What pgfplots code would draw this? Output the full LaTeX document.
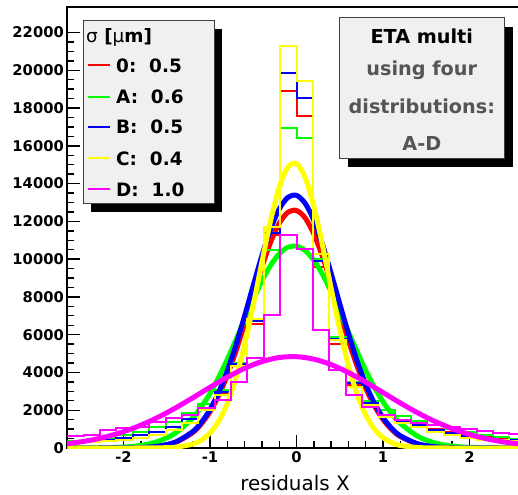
\documentclass[border=0pt]{standalone}
\usepackage{pgfplots}
\pgfplotsset{compat=1.18}
\usepackage{fontspec}
\setmainfont{DejaVu Sans}
\definecolor{boxgray}{RGB}{240,240,240}
\definecolor{txtgray}{RGB}{85,85,85}
\definecolor{cR}{RGB}{255,0,0}
\definecolor{cG}{RGB}{0,255,0}
\definecolor{cB}{RGB}{0,0,255}
\definecolor{cY}{RGB}{255,255,0}
\definecolor{cM}{RGB}{255,0,255}
\newcommand\tickfont{\fontsize{14.8}{16}\selectfont\bfseries}
\newcommand\legfont{\fontsize{18.5}{20}\selectfont\bfseries}
\newcommand\boxfont{\fontsize{19.3}{21}\selectfont\bfseries}
\begin{document}
\begin{tikzpicture}
\begin{axis}[
 at={(0,0)}, anchor=south west,
 scale only axis, width=458.4bp, height=441bp,
 xmin=-2.65, xmax=2.65, ymin=0, ymax=23350,
 axis line style={line width=1.8bp},
 tick align=inside, xtick pos=lower, ytick pos=left,
 xtick={-2,-1,0,1,2}, xticklabels={-2,-1,0,1,2},
 ytick={0,2000,...,22000},
 yticklabels={0,2000,4000,6000,8000,10000,12000,14000,16000,18000,20000,22000},
 minor x tick num=4, minor y tick num=3,
 major tick length=13bp, minor tick length=7bp,
 tick style={black, line width=1.4bp},
 scaled y ticks=false,
 xticklabel style={font=\tickfont},
 yticklabel style={font=\tickfont},
]
% ---- 0 (red)
\addplot[cR, line width=2bp, const plot] coordinates {
(-2.65,300)(-2.4607,350)(-2.2714,450)(-2.0821,550)(-1.8929,700)(-1.7036,850)(-1.5143,1100)
(-1.325,1550)(-1.1357,2100)(-0.9464,2900)(-0.7571,4400)(-0.5679,6550)(-0.3786,11300)(-0.1893,18880)
(0,17560)(0.1893,9600)(0.3786,5500)(0.5679,3350)(0.7571,2350)(0.9464,1700)(1.1357,1450)
(1.325,1250)(1.5143,1000)(1.7036,850)(1.8929,700)(2.0821,600)(2.2714,500)(2.4607,420)(2.65,420)};
\addplot[cR, line width=5bp, smooth] coordinates {
(-2.65,0)(-2.4,0)(-2.2,1)(-2.0,5)(-1.8,24)(-1.6,91)(-1.4,295)(-1.2,815)(-1.1,1276)(-1.0,1919)
(-0.9,2772)(-0.8,3848)(-0.7,5133)(-0.6,6577)(-0.5,8098)(-0.4,9580)(-0.3,10890)(-0.2,11892)
(-0.1,12477)(0,12577)(0.1,12182)(0.2,11335)(0.3,10134)(0.4,8705)(0.5,7185)(0.6,5696)(0.7,4341)
(0.8,3176)(0.9,2234)(1.0,1509)(1.1,980)(1.2,611)(1.4,211)(1.6,62)(1.8,15)(2.0,3)(2.2,1)(2.4,0)(2.65,0)};
% ---- A (green)
\addplot[cG, line width=2bp, const plot] coordinates {
(-2.65,380)(-2.4607,450)(-2.2714,550)(-2.0821,700)(-1.8929,850)(-1.7036,1100)(-1.5143,1400)
(-1.325,1850)(-1.1357,2350)(-0.9464,3050)(-0.7571,4500)(-0.5679,6800)(-0.3786,10500)(-0.1893,16940)
(0,16410)(0.1893,10000)(0.3786,5900)(0.5679,3500)(0.7571,2500)(0.9464,2000)(1.1357,1700)
(1.325,1450)(1.5143,1200)(1.7036,1000)(1.8929,850)(2.0821,700)(2.2714,600)(2.4607,500)(2.65,500)};
\addplot[cG, line width=5bp, smooth] coordinates {
(-2.65,1)(-2.4,4)(-2.2,15)(-2.0,49)(-1.8,138)(-1.6,349)(-1.4,789)(-1.2,1599)(-1.1,2182)(-1.0,2895)
(-0.9,3740)(-0.8,4696)(-0.7,5735)(-0.6,6813)(-0.5,7872)(-0.4,8846)(-0.3,9670)(-0.2,10279)
(-0.1,10627)(0,10687)(0.1,10452)(0.2,9942)(0.3,9198)(0.4,8276)(0.5,7244)(0.6,6165)(0.7,5105)
(0.8,4110)(0.9,3219)(1.0,2451)(1.1,1816)(1.2,1309)(1.4,625)(1.6,267)(1.8,102)(2.0,35)(2.2,11)(2.4,3)(2.65,0)};
% ---- B (blue)
\addplot[cB, line width=2bp, const plot] coordinates {
(-2.65,300)(-2.4607,350)(-2.2714,450)(-2.0821,550)(-1.8929,700)(-1.7036,850)(-1.5143,1100)
(-1.325,1550)(-1.1357,2100)(-0.9464,2950)(-0.7571,4450)(-0.5679,6750)(-0.3786,11400)(-0.1893,19860)
(0,18530)(0.1893,9900)(0.3786,5750)(0.5679,3450)(0.7571,2400)(0.9464,1750)(1.1357,1400)
(1.325,1200)(1.5143,950)(1.7036,800)(1.8929,650)(2.0821,550)(2.2714,450)(2.4607,400)(2.65,400)};
\addplot[cB, line width=5bp, smooth] coordinates {
(-2.65,0)(-2.4,0)(-2.2,1)(-2.0,6)(-1.8,25)(-1.6,97)(-1.4,314)(-1.2,867)(-1.1,1357)(-1.0,2041)
(-0.9,2948)(-0.8,4092)(-0.7,5459)(-0.6,6995)(-0.5,8612)(-0.4,10188)(-0.3,11582)(-0.2,12647)
(-0.1,13269)(0,13376)(0.1,12955)(0.2,12055)(0.3,10778)(0.4,9258)(0.5,7641)(0.6,6058)(0.7,4616)
(0.8,3378)(0.9,2376)(1.0,1605)(1.1,1043)(1.2,650)(1.4,224)(1.6,66)(1.8,16)(2.0,3)(2.2,1)(2.4,0)(2.65,0)};
% ---- C (yellow)
\addplot[cY, line width=2bp, const plot] coordinates {
(-2.65,250)(-2.4607,300)(-2.2714,350)(-2.0821,450)(-1.8929,550)(-1.7036,700)(-1.5143,950)
(-1.325,1300)(-1.1357,2000)(-0.9464,2800)(-0.7571,4350)(-0.5679,6850)(-0.3786,11700)(-0.1893,21270)
(0,19410)(0.1893,10250)(0.3786,5720)(0.5679,3250)(0.7571,2280)(0.9464,1650)(1.1357,1300)
(1.325,1100)(1.5143,850)(1.7036,700)(1.8929,550)(2.0821,450)(2.2714,400)(2.4607,350)(2.65,350)};
\addplot[cY, line width=5bp, smooth] coordinates {
(-2.65,0)(-2.4,0)(-2.2,0)(-2.0,0)(-1.8,1)(-1.6,7)(-1.4,43)(-1.2,209)(-1.1,422)(-1.0,797)
(-0.9,1417)(-0.8,2368)(-0.7,3713)(-0.6,5469)(-0.5,7570)(-0.4,9842)(-0.3,12024)(-0.2,13797)
(-0.1,14870)(0,15058)(0.1,14324)(0.2,12799)(0.3,10745)(0.4,8473)(0.5,6277)(0.6,4368)(0.7,2855)
(0.8,1755)(0.9,1012)(1.0,548)(1.1,279)(1.2,134)(1.4,25)(1.6,4)(1.8,0)(2.0,0)(2.2,0)(2.4,0)(2.65,0)};
% ---- D (magenta)
\addplot[cM, line width=2bp, const plot] coordinates {
(-2.65,640)(-2.4607,700)(-2.2714,950)(-2.0821,1040)(-1.8929,1130)(-1.7036,1400)(-1.5143,1590)
(-1.325,1750)(-1.1357,2100)(-0.9464,2540)(-0.7571,3510)(-0.5679,4770)(-0.3786,7050)(-0.1893,11290)
(0,10550)(0.1893,6250)(0.3786,4130)(0.5679,2810)(0.7571,2190)(0.9464,1750)(1.1357,1500)
(1.325,1350)(1.5143,1200)(1.7036,1100)(1.8929,1000)(2.0821,900)(2.2714,800)(2.4607,750)(2.65,750)};
\addplot[cM, line width=5bp, smooth] coordinates {
(-2.65,226)(-2.4,395)(-2.2,595)(-2.0,863)(-1.8,1207)(-1.6,1628)(-1.4,2118)(-1.2,2657)(-1.0,3214)
(-0.8,3750)(-0.6,4219)(-0.4,4578)(-0.2,4791)(0,4835)(0.2,4705)(0.4,4416)(0.6,3996)(0.8,3488)
(1.0,2936)(1.2,2383)(1.4,1865)(1.6,1408)(1.8,1025)(2.0,720)(2.2,487)(2.4,318)(2.65,178)};
\end{axis}
\begin{scope}[x=1bp,y=-1bp,shift={(-67.3bp,448bp)}]
% legend box
\fill[black] (91,29) rectangle (222,212);
\filldraw[fill=boxgray, draw=black!75, line width=1bp] (83,21) rectangle (214,204);
\node[anchor=base west, inner sep=0, font=\legfont] at (86,42.7) {{\mdseries σ} [{\mdseries μ}m]};
\draw[cR, line width=2bp] (88,65) -- (110,65);
\node[anchor=base west, inner sep=0, font=\legfont] at (116,72.7) {0:\ \ 0.5};
\draw[cG, line width=2bp] (88,96.7) -- (110,96.7);
\node[anchor=base west, inner sep=0, font=\legfont] at (116,103.3) {A:\ \ 0.6};
\draw[cB, line width=2bp] (88,127.3) -- (110,127.3);
\node[anchor=base west, inner sep=0, font=\legfont] at (116,134) {B:\ \ 0.5};
\draw[cY, line width=2bp] (88,158.3) -- (110,158.3);
\node[anchor=base west, inner sep=0, font=\legfont] at (116,165.7) {C:\ \ 0.4};
\draw[cM, line width=2bp] (88,188.7) -- (110,188.7);
\node[anchor=base west, inner sep=0, font=\legfont] at (116,196.7) {D:\ \ 1.0};
% text box
\fill[black] (348,27) rectangle (513,167);
\filldraw[fill=boxgray, draw=black!75, line width=1bp] (339,18) rectangle (504,159);
\node[anchor=base, inner sep=0, font=\boxfont] at (421.8,44) {ETA multi};
\node[anchor=base, inner sep=0, font=\boxfont, text=txtgray] at (421.8,76) {using four};
\node[anchor=base, inner sep=0, font=\boxfont, text=txtgray] at (421.8,113.3) {distributions:};
\node[anchor=base, inner sep=0, font=\boxfont, text=txtgray] at (421.8,150.7) {A-D};
% x label
\node[anchor=base, inner sep=0, font=\fontsize{20}{22}\selectfont] at (295,490) {residuals X};
\pgfresetboundingbox
\path[use as bounding box] (0,0) rectangle (518,495);
\end{scope}
\end{tikzpicture}
\end{document}
